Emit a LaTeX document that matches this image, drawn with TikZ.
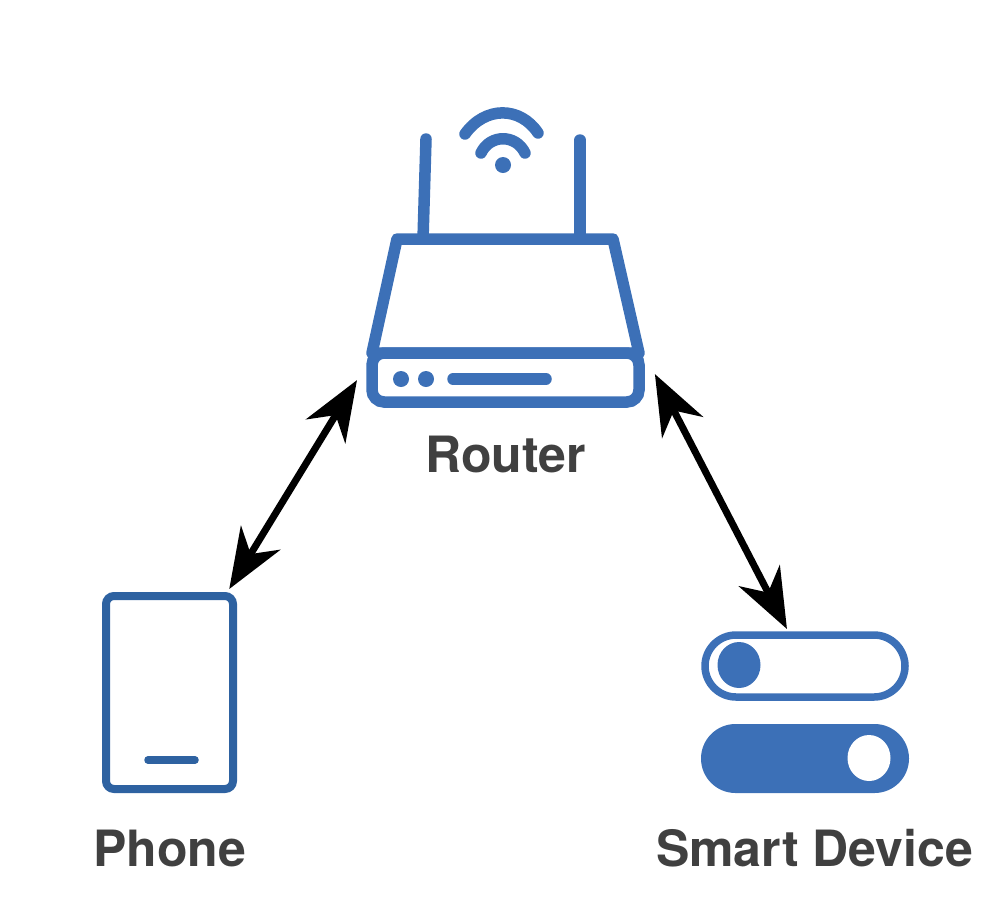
\documentclass[tikz,border=0pt]{standalone}
\usepackage{xcolor}
\usepackage{fontspec}
\setmainfont{TeX Gyre Heros}
\usepackage{tikz}
\usetikzlibrary{shapes.geometric, arrows.meta}
\definecolor{iconblue}{HTML}{3C70B7}
\definecolor{phoneblue}{HTML}{2E62A1}
\definecolor{labelgray}{HTML}{404040}

\begin{document}
\begin{tikzpicture}[
            x=1pt, y=-1pt,
            iconline/.style={draw=iconblue, line width=11.5pt, line cap=round, line join=round},
            routerbase/.style={rectangle, draw=iconblue, line width=11.5pt, rounded corners=12pt, minimum width=267pt, minimum height=49pt, inner sep=0pt, outer sep=15pt},
            routerdot/.style={circle, fill=iconblue, minimum size=16pt, inner sep=0pt},
            phonebox/.style={rectangle, draw=phoneblue, line width=8pt, rounded corners=8pt, minimum width=127pt, minimum height=193pt, inner sep=0pt, outer sep=7pt},
            switchoff/.style={rectangle, draw=iconblue, line width=7.5pt, rounded corners=31pt, minimum width=200pt, minimum height=62pt, inner sep=0pt, outer sep=6pt},
            switchon/.style={rectangle, fill=iconblue, rounded corners=34.5pt, minimum width=208pt, minimum height=69pt, inner sep=0pt},
            knob/.style={ellipse, minimum width=43pt, minimum height=46pt, inner sep=0pt},
            label/.style={font=\fontsize{50pt}{55pt}\selectfont\bfseries, text=labelgray, anchor=base, inner sep=0pt},
            arrow/.style={{Stealth[length=60pt, width=46pt, inset=19pt]}-{Stealth[length=60pt, width=46pt, inset=19pt]}, line width=7pt, black}
        ]
            \useasboundingbox (0,0) rectangle (1008,914);

            \node[routerbase] (router) at (505.5,377.5) {};
            \node[routerdot] (dotone) at (401,379) {};
            \node[routerdot] (dottwo) at (426,379) {};
            \draw[iconline] (453,379) -- (546,379);
            \draw[iconline] (372,353) -- (397,239) -- (613,239) -- (639,353) -- cycle;
            \draw[iconline] (426,139) -- (423,239);
            \draw[iconline] (580,140) -- (580,239);

            \node[circle, fill=iconblue, minimum size=16pt, inner sep=0pt] (wifidot) at (503,165) {};
            \draw[iconline] (481,153) .. controls (490,134) and (516,134) .. (525,153);
            \draw[iconline] (465,134) .. controls (485,106) and (520,106) .. (538,133);

            \node[phonebox] (phone) at (169.5,692.5) {};
            \draw[draw=phoneblue, line width=7.5pt, line cap=round] (148,760) -- (195,760);

            \node[switchoff] (switch) at (805,666) {};
            \node[knob, fill=iconblue] (knobone) at (739,665) {};
            \node[switchon] (switchlow) at (805,758.5) {};
            \node[knob, fill=white] (knobtwo) at (869,758) {};

            \node[label] (routerlabel) at (505.5,472) {Router};
            \node[label] (phonelabel) at (169.5,866) {Phone};
            \node[label] (devicelabel) at (814.5,866) {Smart Device};

            \draw[arrow] (phone.60) -- (router.181);
            \draw[arrow, shorten <=2pt] (router.2) -- (switch.116);
        \end{tikzpicture}
\end{document}
